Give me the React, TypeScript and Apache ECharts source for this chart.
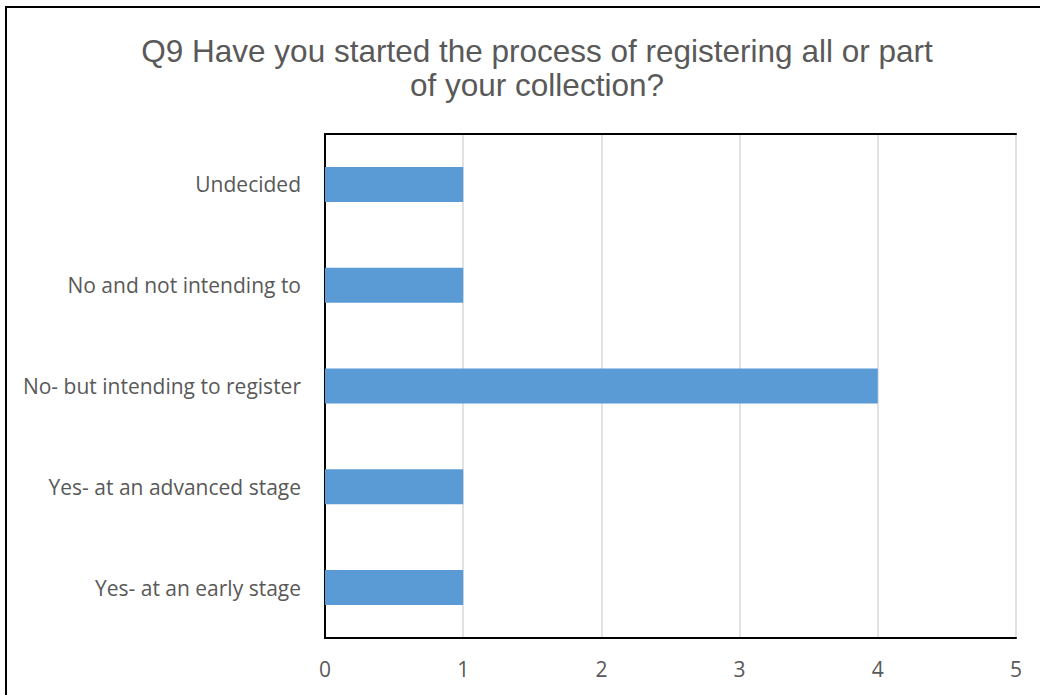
import React, { useEffect, useRef } from "react";
import * as echarts from "echarts";

const categories = [
  "Yes- at an early stage",
  "Yes- at an advanced stage",
  "No- but intending to register",
  "No and not intending to",
  "Undecided",
];
const counts = [1, 1, 4, 1, 1];
const titleText = "Q9 Have you started the process of registering all or part\nof your collection?";

export default function App() {
  const ref = useRef<HTMLDivElement>(null);
  useEffect(() => {
    const chart = echarts.init(ref.current!, null, { renderer: "svg" });
    const labelFont = "'Open Sans', 'Noto Sans', sans-serif";
    chart.setOption({
      animation: false,
      backgroundColor: "#ffffff",
      title: {
        text: titleText,
        left: 532,
        top: 29,
        textAlign: "center",
        textStyle: {
          fontFamily: "'Liberation Sans', Arial, sans-serif",
          fontWeight: "normal",
          fontSize: 31.5,
          lineHeight: 34,
          color: "#595959",
        },
      },
      graphic: [
        {
          type: "rect",
          shape: { x: 6, y: 7, width: 1200, height: 900 },
          style: { fill: "none", stroke: "#000000", lineWidth: 2 },
          silent: true,
        },
      ],
      grid: { left: 325, top: 134, right: 24, bottom: 57, containLabel: false },
      xAxis: [
        {
          type: "value",
          min: 0,
          max: 5,
          interval: 1,
          position: "bottom",
          axisLine: { show: true, lineStyle: { color: "#000000", width: 2 } },
          axisTick: { show: false },
          splitLine: { show: true, lineStyle: { color: "#d9d9d9", width: 1.5 } },
          axisLabel: { show: true, color: "#595959", fontSize: 21, fontFamily: labelFont, margin: 20 },
        },
        {
          type: "value",
          min: 0,
          max: 5,
          interval: 1,
          position: "top",
          axisLine: { show: true, lineStyle: { color: "#000000", width: 2 } },
          axisTick: { show: false },
          splitLine: { show: false },
          axisLabel: { show: false },
        },
      ],
      yAxis: [
        {
          type: "category",
          data: categories,
          position: "left",
          axisLine: { show: true, lineStyle: { color: "#bfbfbf", width: 2 } },
          axisTick: { show: false },
          axisLabel: { color: "#595959", fontSize: 21, fontFamily: labelFont, margin: 24 },
        },
        {
          type: "category",
          data: categories,
          position: "right",
          axisLine: { show: true, lineStyle: { color: "#000000", width: 2 } },
          axisTick: { show: false },
          axisLabel: { show: false },
        },
      ],
      series: [
        {
          type: "bar",
          data: counts,
          xAxisIndex: 0,
          yAxisIndex: 0,
          barWidth: 35,
          itemStyle: { color: "#5b9bd5" },
        },
      ],
    });
    return () => chart.dispose();
  }, []);
  return (
    <div
      ref={ref}
      style={{ position: "fixed", left: 0, top: 0, width: 1040, height: 695 }}
    />
  );
}
